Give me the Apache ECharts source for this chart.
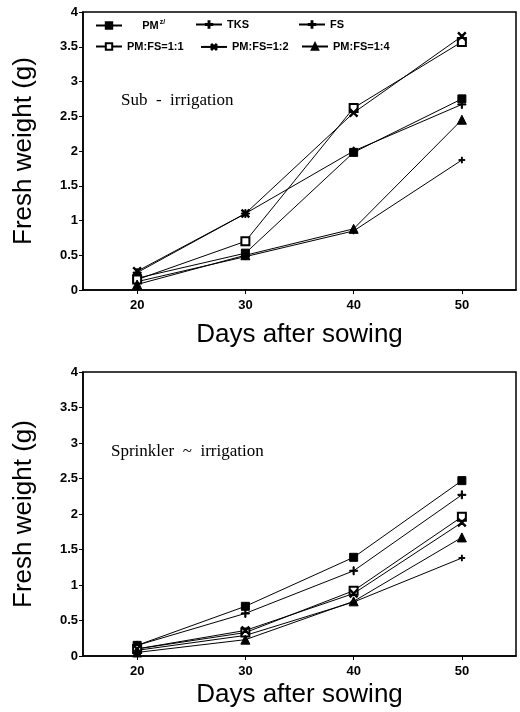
<!DOCTYPE html>
<html>
<head>
    <meta charset="utf-8">
    <title>Fresh weight</title>
    <style>
        *{ margin:0; padding:0; box-sizing:border-box; }
        html, body, #chart{ width:100%; height:100%; overflow:hidden; background:#fff; }
    </style>
</head>
<body>
    <div id="chart"></div>
    <script src="https://cdn.jsdelivr.net/npm/echarts@6/dist/echarts.min.js"></script>
    <script>
        // days after sowing
        var days = [20, 30, 40, 50];
        var dayTicks = [20, 30, 40, 50];

        // sub-irrigation
        var subPM    = [0.17, 0.53, 1.98, 2.75];
        var subTKS   = [0.25, 1.10, 2.00, 2.67];
        var subFS    = [0.12, 0.48, 0.85, 1.87];
        var sub11    = [0.15, 0.70, 2.62, 3.57];
        var sub12    = [0.27, 1.10, 2.55, 3.65];
        var sub14    = [0.08, 0.50, 0.88, 2.45];

        // sprinkler-irrigation
        var spPM     = [0.15, 0.70, 1.39, 2.47];
        var spTKS    = [0.15, 0.60, 1.20, 2.27];
        var spFS     = [0.08, 0.29, 0.76, 1.38];
        var sp11     = [0.10, 0.33, 0.92, 1.96];
        var sp12     = [0.10, 0.36, 0.88, 1.88];
        var sp14     = [0.05, 0.23, 0.77, 1.67];

        var names = ['PM', 'TKS', 'FS', 'PM:FS=1:1', 'PM:FS=1:2', 'PM:FS=1:4'];

        var plusPath = 'path://M4.3,0H5.7V4.3H10V5.7H5.7V10H4.3V5.7H0V4.3H4.3Z';
        var marks = {
            'PM':        { symbol: 'rect', size: 8, rot: 0 },
            'TKS':       { symbol: plusPath, size: 8, rot: 0 },
            'FS':        { symbol: plusPath, size: 6, rot: 0 },
            'PM:FS=1:1': { symbol: 'emptyRect', size: 8, rot: 0 },
            'PM:FS=1:2': { symbol: plusPath, size: 10, rot: 45 },
            'PM:FS=1:4': { symbol: 'triangle', size: 9, rot: 0 }
        };

        function pairs(arr) {
            return arr.map(function (v, i) { return [days[i], v]; });
        }

        function mkSeries(name, arr, idx) {
            var m = marks[name];
            return {
                name: name,
                type: 'line',
                xAxisIndex: idx,
                yAxisIndex: idx,
                data: pairs(arr),
                symbol: m.symbol,
                symbolSize: m.size,
                symbolRotate: m.rot,
                showSymbol: true,
                animation: false,
                lineStyle: { color: '#000', width: 1 },
                itemStyle: { color: '#000', borderColor: '#000', borderWidth: 1 }
            };
        }

        var fontSans = '"Liberation Sans", Arial, sans-serif';

        function mkX(idx, gap) {
            return {
                type: 'value',
                gridIndex: idx,
                min: 15,
                max: 55,
                splitLine: { show: false },
                axisLine: { lineStyle: { color: '#000', width: 1.5 } },
                axisTick: { show: true, customValues: dayTicks, length: 4, lineStyle: { color: '#000' } },
                axisLabel: { customValues: dayTicks, color: '#000', fontSize: 13, fontWeight: 'bold', fontFamily: fontSans, margin: 9 },
                name: 'Days after sowing',
                nameLocation: 'middle',
                nameGap: gap,
                nameTextStyle: { color: '#000', fontSize: 26, fontFamily: fontSans }
            };
        }

        function mkY(idx) {
            return {
                type: 'value',
                gridIndex: idx,
                min: 0,
                max: 4,
                interval: 0.5,
                splitLine: { show: false },
                axisLine: { show: true, lineStyle: { color: '#000', width: 1.5 } },
                axisTick: { show: true, length: 4, lineStyle: { color: '#000' } },
                axisLabel: { color: '#000', fontSize: 13, fontWeight: 'bold', fontFamily: fontSans, margin: 5 },
                name: 'Fresh weight (g)',
                nameLocation: 'middle',
                nameGap: 46,
                nameTextStyle: { color: '#000', fontSize: 26, fontFamily: fontSans }
            };
        }

        // legend positions (one component per item)
        var legendPos = [
            { name: 'PM', left: 95, top: 19 },
            { name: 'TKS', left: 195, top: 19 },
            { name: 'FS', left: 298, top: 19 },
            { name: 'PM:FS=1:1', left: 95, top: 41 },
            { name: 'PM:FS=1:2', left: 200, top: 41 },
            { name: 'PM:FS=1:4', left: 301, top: 41 }
        ];

        var legends = legendPos.map(function (p) {
            return {
                data: [p.name],
                left: p.left,
                top: p.top,
                padding: 0,
                itemWidth: 26,
                itemHeight: 8,
                itemGap: 4,
                selectedMode: false,
                formatter: function (n) {
                    if (n === 'PM') return '     PM{sup|z/}';
                    return n;
                },
                textStyle: {
                    color: '#000', fontSize: 11, fontWeight: 'bold', fontFamily: fontSans,
                    rich: { sup: { fontSize: 7, fontWeight: 'bold', verticalAlign: 'top', padding: [0, 0, 6, 1] } }
                }
            };
        });

        var series = [];
        [subPM, subTKS, subFS, sub11, sub12, sub14].forEach(function (a, i) { series.push(mkSeries(names[i], a, 0)); });
        [spPM, spTKS, spFS, sp11, sp12, sp14].forEach(function (a, i) { series.push(mkSeries(names[i], a, 1)); });

        var chart = echarts.init(document.getElementById('chart'));
        chart.setOption({
            animation: false,
            backgroundColor: '#fff',
            grid: [
                { left: 83, top: 12, right: 4, height: 278, outerBoundsMode: 'none', show: true, borderColor: '#000', borderWidth: 1.5, backgroundColor: 'transparent' },
                { left: 83, top: 372, right: 4, height: 284, outerBoundsMode: 'none', show: true, borderColor: '#000', borderWidth: 1.5, backgroundColor: 'transparent' }
            ],
            xAxis: [mkX(0, 32), mkX(1, 26)],
            yAxis: [mkY(0), mkY(1)],
            legend: legends,
            graphic: [
                { type: 'text', left: 121, top: 92, style: { text: 'Sub  -  irrigation', font: '17px "Liberation Serif", serif', fill: '#000' } },
                { type: 'text', left: 111, top: 443, style: { text: 'Sprinkler  ~  irrigation', font: '17px "Liberation Serif", serif', fill: '#000' } }
            ],
            series: series
        });
    </script>
</body>
</html>
